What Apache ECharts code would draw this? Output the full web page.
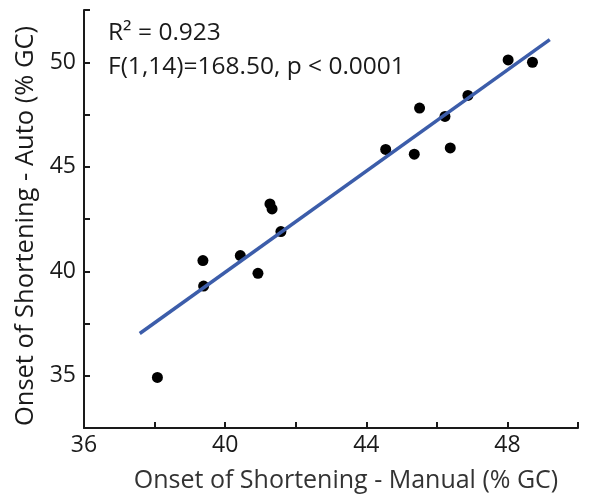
<!DOCTYPE html>
<html lang="en">

<head>
  <meta charset="UTF-8">
  <title>Onset of Shortening</title>
  <style>
    html, body { margin: 0; padding: 0; background: #fff; }
    #main { width: 594px; height: 498px; }
  </style>
</head>

<body>
  <div id="main"></div>
  <script src="https://cdn.jsdelivr.net/npm/echarts@6/dist/echarts.min.js"></script>
  <script>
    const myChart = echarts.init(document.getElementById('main'));

    // manual vs auto onset (% GC)
    const manual = [38.08, 39.37, 39.39, 40.43, 40.93, 41.27, 41.33, 41.58,
                    44.55, 45.36, 45.51, 46.23, 46.38, 46.88, 48.02, 48.71];
    const auto = [34.92, 40.51, 39.29, 40.75, 39.90, 43.22, 42.98, 41.90,
                  45.83, 45.60, 47.81, 47.41, 45.90, 48.41, 50.11, 50.00];

    // fitted line end points
    const fitX = [37.58, 49.2];
    const fitY = [37.02, 51.08];

    const xLabels = [36, 40, 44, 48];
    const yLabels = [35, 40, 45, 50];

    const stats = ['R\u00B2 = 0.923', 'F(1,14)=168.50, p < 0.0001'];

    const font = '"Open Sans", sans-serif';
    const axisColor = '#1a1a1a';

    const points = manual.map((x, i) => [x, auto[i]]);
    const fit = fitX.map((x, i) => [x, fitY[i]]);

    const option = {
      animation: false,
      grid: { left: 84, right: 16, top: 10, bottom: 68 },
      xAxis: {
        type: 'value',
        min: 36, max: 50, interval: 2,
        name: 'Onset of Shortening - Manual (% GC)',
        nameLocation: 'middle',
        nameGap: 40,
        nameTextStyle: { fontFamily: font, fontSize: 25, color: '#333', padding: [0, 0, 0, 30] },
        axisLine: { lineStyle: { color: axisColor, width: 2 } },
        axisTick: { inside: true, length: 6, lineStyle: { color: axisColor, width: 2 } },
        axisLabel: {
          fontFamily: font, fontSize: 23, color: '#1a1a1a', margin: 6,
          formatter: v => xLabels.includes(v) ? String(v) : ''
        },
        splitLine: { show: false }
      },
      yAxis: {
        type: 'value',
        min: 32.5, max: 52.5, interval: 2.5,
        name: 'Onset of Shortening - Auto (% GC)',
        nameLocation: 'middle',
        nameGap: 42,
        nameTextStyle: { fontFamily: font, fontSize: 25.5, color: '#1a1a1a', padding: [0, 14, 0, 0] },
        axisLine: { show: true, lineStyle: { color: axisColor, width: 2 } },
        axisTick: { show: true, inside: true, length: 6, lineStyle: { color: axisColor, width: 2 } },
        axisLabel: {
          fontFamily: font, fontSize: 23, color: '#1a1a1a', margin: 8,
          formatter: v => yLabels.includes(v) ? String(v) : ''
        },
        splitLine: { show: false }
      },
      graphic: stats.map((t, i) => ({
        type: 'text',
        x: 108,
        y: 33 + i * 34,
        style: {
          text: t,
          font: '24.5px ' + font,
          fill: '#1a1a1a',
          verticalAlign: 'middle'
        }
      })),
      series: [
        {
          type: 'line',
          data: fit,
          symbol: 'none',
          lineStyle: { color: '#3C5DAA', width: 3.5 },
          z: 3
        },
        {
          type: 'scatter',
          data: points,
          symbolSize: 11,
          itemStyle: { color: '#000', opacity: 1 },
          z: 2
        }
      ]
    };

    myChart.setOption(option);
  </script>
</body>

</html>
